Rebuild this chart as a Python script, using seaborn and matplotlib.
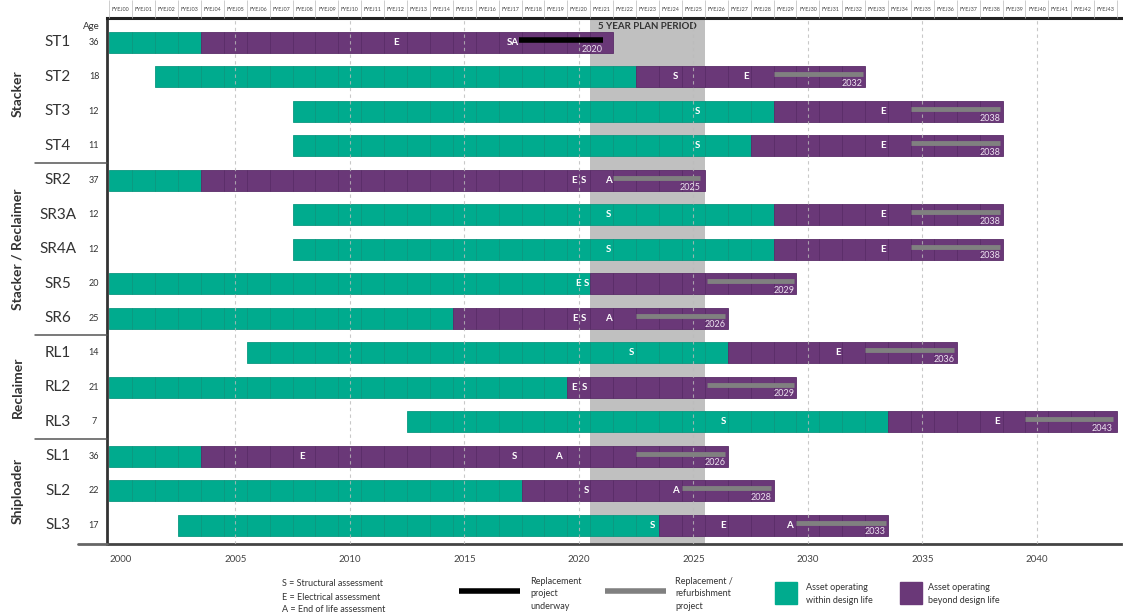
import numpy as np
import matplotlib
matplotlib.use("Agg")
import matplotlib.pyplot as plt
import matplotlib.transforms as mtransforms
from matplotlib.lines import Line2D
from matplotlib.patches import Rectangle
import seaborn as sns

# ---- data ----
assets = ["ST1", "ST2", "ST3", "ST4", "SR2", "SR3A", "SR4A", "SR5", "SR6",
          "RL1", "RL2", "RL3", "SL1", "SL2", "SL3"]
ages = [36, 18, 12, 11, 37, 12, 12, 20, 25, 14, 21, 7, 36, 22, 17]
groups = ["Stacker", "Stacker / Reclaimer", "Reclaimer", "Shiploader"]
group_sizes = [4, 5, 3, 3]

# first FYE inside design life, first FYE beyond design life, last FYE shown
design_start = [2000, 2002, 2008, 2008, 2000, 2008, 2008, 2000, 2000, 2006, 2000, 2013, 2000, 2000, 2003]
beyond_start = [2004, 2023, 2029, 2028, 2004, 2029, 2029, 2021, 2015, 2027, 2020, 2034, 2004, 2018, 2024]
last_fye = [2021, 2032, 2038, 2038, 2025, 2038, 2038, 2029, 2026, 2036, 2029, 2043, 2026, 2028, 2033]

# replacement projects
proj_start = [2017.4, 2028.5, 2034.5, 2034.5, 2021.5, 2034.5, 2034.5, 2025.6, 2022.5,
              2032.5, 2025.6, 2039.5, 2022.5, 2024.5, 2029.5]
proj_end = [2021.05, 2032.4, 2038.4, 2038.4, 2025.3, 2038.4, 2038.4, 2029.4, 2026.4,
            2036.4, 2029.4, 2043.3, 2026.4, 2028.4, 2033.4]
proj_year = [2020, 2032, 2038, 2038, 2025, 2038, 2038, 2029, 2026, 2036, 2029, 2043, 2026, 2028, 2033]
proj_underway = [True] + [False] * 14

# assessment markers
mark_row = [0, 0, 1, 1, 2, 2, 3, 3, 4, 4, 4, 5, 5, 6, 6, 7, 7, 8, 8, 8,
            9, 9, 10, 10, 11, 11, 12, 12, 12, 13, 13, 14, 14, 14]
mark_text = ["E", "SA", "S", "E", "S", "E", "S", "E", "E", "S", "A", "S", "E", "S", "E", "E", "S", "E", "S", "A",
             "S", "E", "E", "S", "S", "E", "E", "S", "A", "S", "A", "S", "E", "A"]
mark_year = [2012.0, 2017.1, 2024.2, 2027.3, 2025.2, 2033.3, 2025.2, 2033.3, 2019.8, 2020.2, 2021.3,
             2021.3, 2033.3, 2021.3, 2033.3, 2019.95, 2020.35, 2019.85, 2020.2, 2021.3,
             2022.3, 2031.3, 2019.8, 2020.25, 2026.3, 2038.25, 2007.9, 2017.2, 2019.1,
             2020.35, 2024.2, 2023.2, 2026.3, 2029.2]

plan_period = (2020.5, 2025.5)
fye_years = list(range(2000, 2044))
fye_labels = ["FYEJ%02d" % (y % 100) for y in fye_years]

TEAL = "#00AB8E"
TEAL_EDGE = "#0B9880"
PURPLE = "#6A3878"
PURPLE_EDGE = "#5A2C68"
GREY_LINE = "#808080"

sns.set_theme(style="white")
plt.rcParams["font.family"] = ["Lato", "DejaVu Sans"]

W, H = 1123, 615
fig = plt.figure(figsize=(W / 100, H / 100), dpi=100)
ax = fig.add_axes([107 / W, 1 - 544 / H, (1121 - 107) / W, (544 - 18) / H])

xmin, xmax = 1999.4, 2043.67
ax.set_xlim(xmin, xmax)
ax.set_ylim(14.55, -0.7)

ax.axvspan(*plan_period, color="#C0C0C0", zorder=0, lw=0)
ax.text(np.mean(plan_period), -0.44, "5 YEAR PLAN PERIOD", ha="center", va="center",
        fontsize=7, fontweight="bold", color="#333333")

bh = 0.61
for i in range(len(assets)):
    for fy in range(design_start[i], last_fye[i] + 1):
        left = max(fy - 0.5, xmin)
        width = fy + 0.5 - left
        within = fy < beyond_start[i]
        ax.barh(i, width, left=left, height=bh,
                color=TEAL if within else PURPLE,
                edgecolor=TEAL_EDGE if within else PURPLE_EDGE,
                linewidth=0.6, zorder=2)
    ax.hlines(i - 0.07, proj_start[i], proj_end[i],
              color="black" if proj_underway[i] else GREY_LINE,
              lw=4 if proj_underway[i] else 3.5, zorder=4, capstyle="butt")
    ax.text(proj_end[i], i + 0.2, str(proj_year[i]), ha="right", va="center",
            fontsize=6.5, color="#EDE3F0", zorder=5)

for r, t, x in zip(mark_row, mark_text, mark_year):
    ax.text(x, r, t, ha="center", va="center", fontsize=7, fontweight="bold",
            color="white", zorder=5)

for yr in range(2005, 2041, 5):
    ax.axvline(yr, color="#BBBBBB", ls=(0, (3, 3)), lw=0.8, alpha=0.8, zorder=3)

# axes styling
ax.set_xticks(range(2000, 2041, 5))
ax.set_xticklabels([str(y) for y in range(2000, 2041, 5)])
ax.set_yticks([])
ax.tick_params(axis="x", length=0, pad=8, labelsize=7, labelcolor="#444444")
ax.grid(False)
sns.despine(ax=ax, right=True, top=False)
ax.spines["left"].set_color("#333333")
ax.spines["left"].set_linewidth(2)
ax.spines["top"].set_color("#222222")
ax.spines["top"].set_linewidth(2.2)
ax.spines["bottom"].set_color("#444444")
ax.spines["bottom"].set_linewidth(2)

# top FYE labels
ax2 = ax.twiny()
ax2.set_xlim(xmin, xmax)
ax2.set_xticks(fye_years)
ax2.set_xticklabels(fye_labels)
ax2.set_xticks(np.arange(1999.5, 2044, 1), minor=True)
ax2.tick_params(axis="x", which="major", length=0, pad=4, labelsize=3.9, labelcolor="#444444")
ax2.tick_params(axis="x", which="minor", length=13, width=0.5, color="#BBBBBB", direction="out")
for s in ax2.spines.values():
    s.set_visible(False)

# left-hand labels
tr = mtransforms.blended_transform_factory(fig.transFigure, ax.transData)
for i, (a, g) in enumerate(zip(assets, ages)):
    fig.text(58 / W, i, a, transform=tr, ha="center", va="center", fontsize=11, color="#333333")
    fig.text(94 / W, i, str(g), transform=tr, ha="center", va="center", fontsize=6.5, color="#333333")
fig.text(91 / W, -0.44, "Age", transform=tr, ha="center", va="center", fontsize=7, color="#333333")

row0 = 0
for g, n in zip(groups, group_sizes):
    fig.text(18 / W, row0 + (n - 1) / 2, g, transform=tr, ha="center", va="center",
             rotation=90, fontsize=10, fontweight="bold", color="#333333")
    if row0 > 0:
        fig.add_artist(Line2D([35 / W, 107 / W], [row0 - 0.5, row0 - 0.5], transform=tr,
                              color="#555555", lw=1.1))
    row0 += n
fig.add_artist(Line2D([78 / W, 107 / W], [14.55, 14.55], transform=tr, color="#666666", lw=2))

# legend
def fx(x):
    return x / W


def fy(y):
    return 1 - y / H


lg = dict(fontsize=6.5, color="#333333", va="center", ha="left")
fig.text(fx(282), fy(584), "S = Structural assessment", **lg)
fig.text(fx(282), fy(597), "E = Electrical assessment", **lg)
fig.text(fx(282), fy(610), "A = End of life assessment", **lg)
fig.add_artist(Line2D([fx(459), fx(520)], [fy(591), fy(591)], color="black", lw=4,
                      solid_capstyle="butt"))
fig.text(fx(530), fy(594), "Replacement\nproject\nunderway", linespacing=1.5, **lg)
fig.add_artist(Line2D([fx(605), fx(666)], [fy(591), fy(591)], color=GREY_LINE, lw=4,
                      solid_capstyle="butt"))
fig.text(fx(675), fy(594), "Replacement /\nrefurbishment\nproject", linespacing=1.5, **lg)
fig.add_artist(Rectangle((fx(775), fy(604)), 22 / W, 22 / H, color=TEAL, transform=fig.transFigure))
fig.text(fx(806), fy(594), "Asset operating\nwithin design life", linespacing=1.5, **lg)
fig.add_artist(Rectangle((fx(900), fy(604)), 22 / W, 22 / H, color=PURPLE, transform=fig.transFigure))
fig.text(fx(928), fy(594), "Asset operating\nbeyond design life", linespacing=1.5, **lg)

fig.savefig("out.png", dpi=100)
